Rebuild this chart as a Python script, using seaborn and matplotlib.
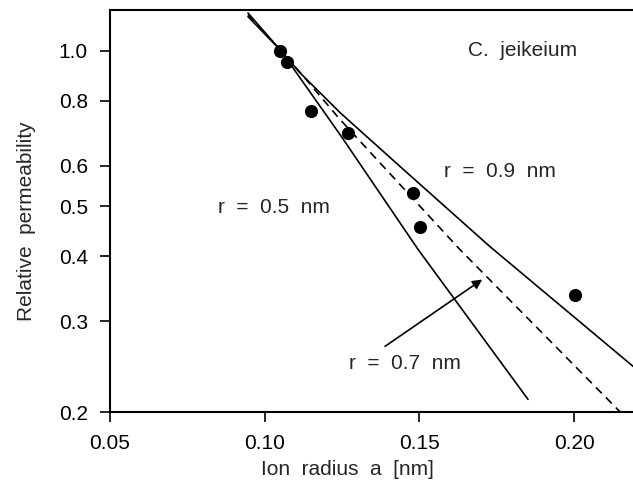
import matplotlib
matplotlib.use("Agg")
import matplotlib.pyplot as plt
import pandas as pd
import seaborn as sns
from matplotlib.ticker import FixedLocator, FixedFormatter, NullLocator

# measured permeabilities (C. jeikeium)
ion_radius = [0.1050, 0.1072, 0.1150, 0.1269, 0.1480, 0.1502, 0.2003]
rel_perm = [1.00, 0.952, 0.766, 0.694, 0.532, 0.457, 0.337]

# model curves, one per pore radius
a_r05 = [0.0946, 0.1053, 0.1114, 0.1244, 0.1496, 0.1851]
p_r05 = [1.184, 1.0, 0.887, 0.688, 0.4125, 0.2116]
a_r07 = [0.0946, 0.1053, 0.1121, 0.1244, 0.1631, 0.2149]
p_r07 = [1.175, 1.0, 0.899, 0.736, 0.4125, 0.200]
a_r09 = [0.0946, 0.1053, 0.1114, 0.1244, 0.1438, 0.1728, 0.2191]
p_r09 = [1.165, 1.0, 0.907, 0.759, 0.597, 0.418, 0.245]

y_ticks = [0.2, 0.3, 0.4, 0.5, 0.6, 0.8, 1.0]
y_tick_labels = ["0.2", "0.3", "0.4", "0.5", "0.6", "0.8", "1.0"]
x_ticks = [0.05, 0.10, 0.15, 0.20]
x_tick_labels = ["0.05", "0.10", "0.15", "0.20"]

sns.set_style("ticks")
plt.rcParams["font.family"] = ["Liberation Sans", "DejaVu Sans"]

fig = plt.figure(figsize=(6.33, 4.88), dpi=100)
ax = fig.add_axes([110 / 633, 76 / 488, 526 / 633, 402 / 488])

curves = pd.DataFrame({
    "a": a_r05 + a_r07 + a_r09,
    "p": p_r05 + p_r07 + p_r09,
    "r": ["0.5"] * len(a_r05) + ["0.7"] * len(a_r07) + ["0.9"] * len(a_r09),
})
sns.lineplot(data=curves, x="a", y="p", hue="r", style="r",
             palette={"0.5": "black", "0.7": "black", "0.9": "black"},
             dashes={"0.5": "", "0.7": (5, 3.5), "0.9": ""},
             linewidth=1.2, sort=False, estimator=None, legend=False, ax=ax)

sns.scatterplot(x=ion_radius, y=rel_perm, color="black", s=90,
                linewidth=0, zorder=5, ax=ax)

ax.set_yscale("log")
ax.set_xlim(0.05, 0.22)
ax.set_ylim(0.2, 1.2)
ax.yaxis.set_major_locator(FixedLocator(y_ticks))
ax.yaxis.set_major_formatter(FixedFormatter(y_tick_labels))
ax.yaxis.set_minor_locator(NullLocator())
ax.xaxis.set_major_locator(FixedLocator(x_ticks))
ax.xaxis.set_major_formatter(FixedFormatter(x_tick_labels))

for s in ax.spines.values():
    s.set_linewidth(1.5)
    s.set_color("black")
ax.tick_params(axis="both", which="major", length=7, width=1.2,
               labelsize=15, colors="black")
ax.tick_params(axis="y", pad=9)
ax.tick_params(axis="x", pad=9)

ax.set_xlabel("Ion  radius  a  [nm]", fontsize=15)
ax.set_ylabel("Relative  permeability", fontsize=15)
ax.xaxis.set_label_coords(0.452, -0.12)
ax.yaxis.set_label_coords(-0.14, 0.475)

ax.text(0.1832, 1.0, "C.  jeikeium", fontsize=15, ha="center", va="center")
ax.text(0.1030, 0.497, "r  =  0.5  nm", fontsize=15, ha="center", va="center")
ax.text(0.1761, 0.584, "r  =  0.9  nm", fontsize=15, ha="center", va="center")
ax.text(0.1454, 0.2484, "r  =  0.7  nm", fontsize=15, ha="center", va="center")
ax.annotate("", xy=(0.1703, 0.361), xytext=(0.1389, 0.268),
            arrowprops=dict(arrowstyle="-|>", color="black", lw=1.2,
                            mutation_scale=14, shrinkA=0, shrinkB=0))

fig.savefig("out.png", dpi=100, facecolor="white")
